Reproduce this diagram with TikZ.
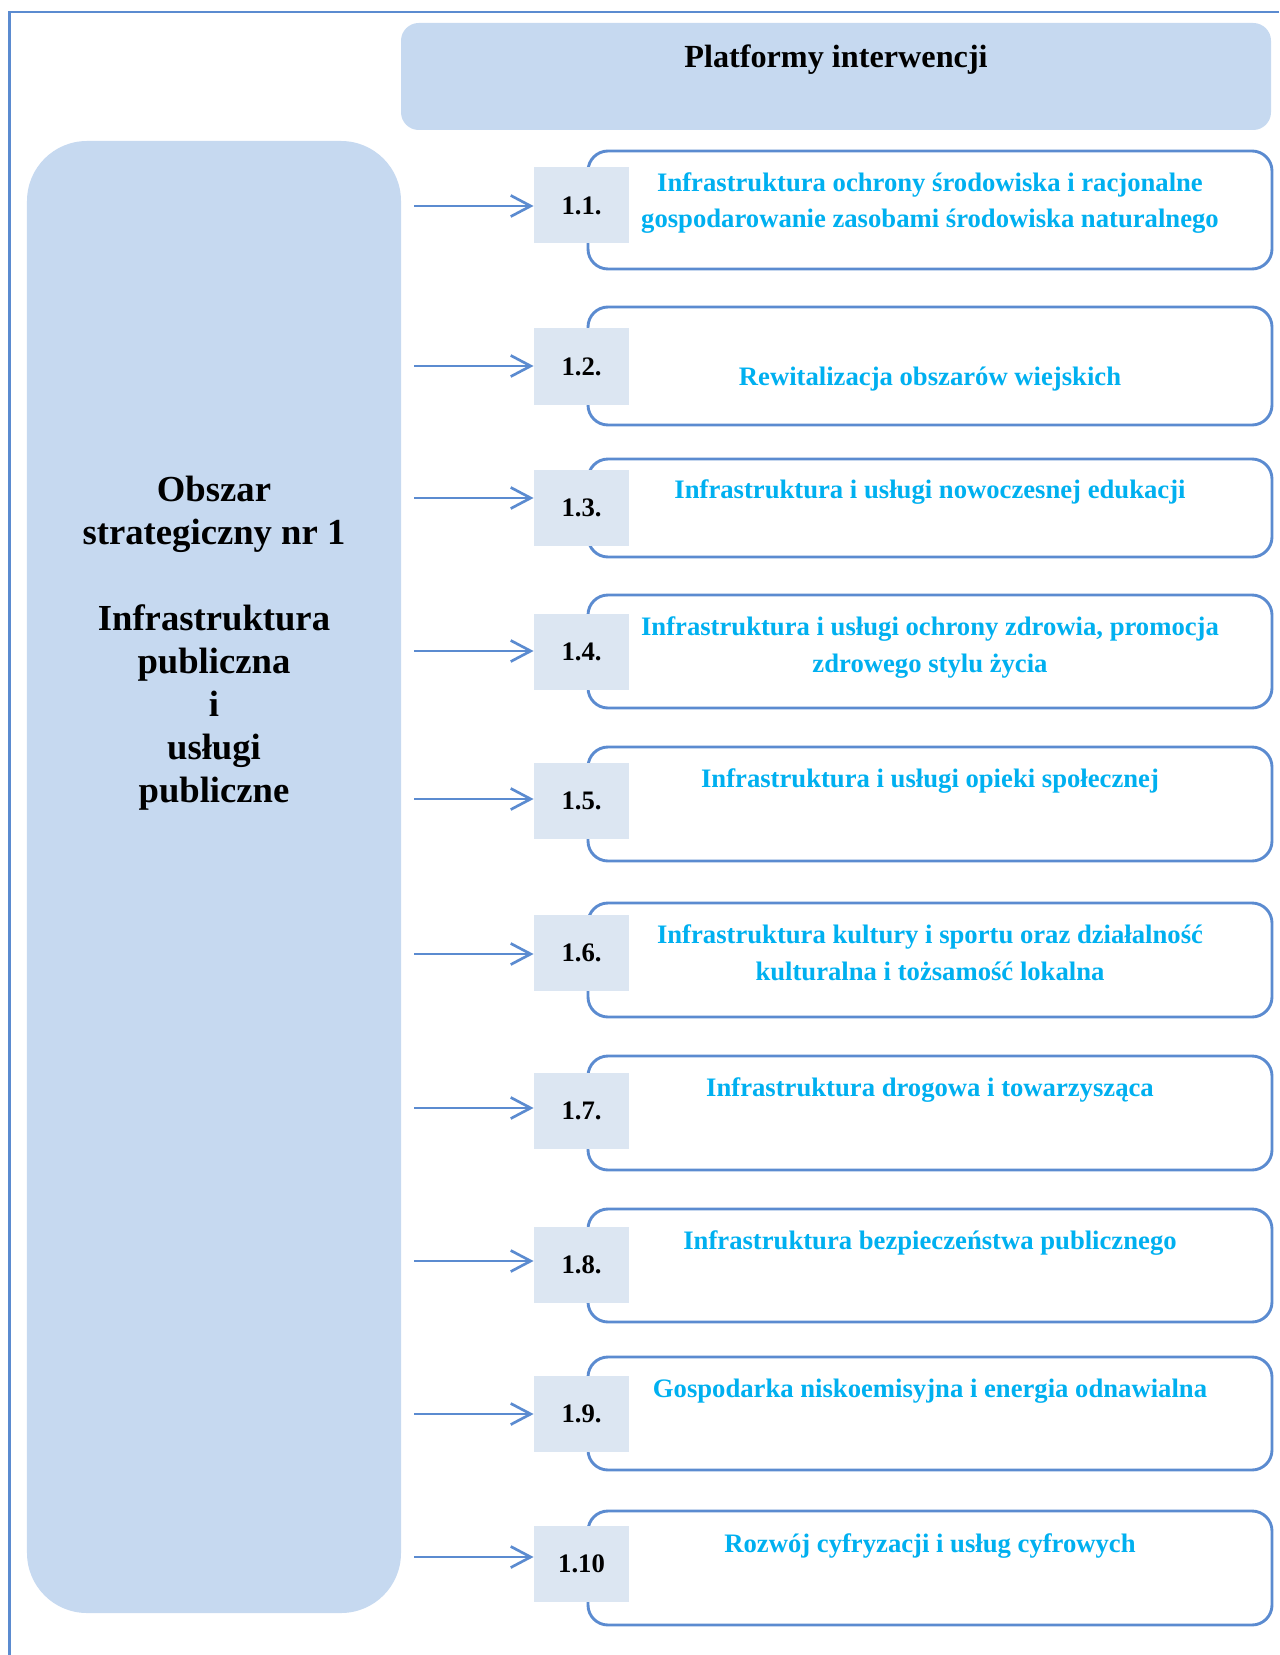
\documentclass[tikz,border=0pt]{standalone}
\usepackage{fontspec}
\setmainfont{Liberation Serif}
\usepackage{tikz}
\usetikzlibrary{arrows.meta}
\definecolor{ramka}{HTML}{5B8BD0}
\definecolor{obszar}{HTML}{C6D9F0}
\definecolor{numer}{HTML}{DCE6F2}
\definecolor{napis}{HTML}{00B0F0}
\tikzset{obszarbox/.style={fill=obszar,inner sep=0pt},
         numbox/.style={fill=numer,inner sep=0pt,minimum width=42.75pt,minimum height=34.2pt,
                        font=\bfseries\fontsize{12}{14}\selectfont},
         platbox/.style={draw=ramka,line width=1.3pt,rounded corners=9pt,fill=white,
                         minimum width=307.8pt,inner sep=0pt},
         platnapis/.style={text=napis,align=center,anchor=base,inner sep=0pt,
                           font=\bfseries\fontsize{12}{16.6}\selectfont},
         strzalka/.style={draw=ramka,line width=1.2pt,-{Straight Barb[length=9pt,width=9.5pt]}}}

\begin{document}
\begin{tikzpicture}[x=0.45pt,y=-0.45pt]
\useasboundingbox (0,0) rectangle (1279,1655);
% ramka strony
\draw[ramka,line width=1pt] (1279,12) -- (9.5,12) -- (9.5,1655);

\node (plat) [obszarbox,rounded corners=8pt,minimum width=391.5pt,minimum height=48.15pt] at (836,76.5) {};
\node (plattyt) [anchor=base,inner sep=0pt,font=\bfseries\fontsize{14.5}{17}\selectfont] at (836,68) {Platformy interwencji};

\node (obszar) [obszarbox,rounded corners=27pt,minimum width=168.3pt,minimum height=662.4pt] at (214,877) {};
% base = ostatni wiersz
\node (obszartyt) [anchor=base,align=center,inner sep=0pt,font=\bfseries\fontsize{16.5}{19.3}\selectfont] at (214,802)
  {Obszar\\strategiczny nr 1\\[19.3pt]Infrastruktura\\publiczna\\i\\usługi\\publiczne};

\foreach \nr/\gora/\dol/\ngora/\ndol/\sy/\odst/\tekst [count=\k] in {
  1.1./151/269/168/243/206/77/{Infrastruktura ochrony środowiska i racjonalne\\gospodarowanie zasobami środowiska naturalnego},
  1.2./307/425/329/404/366/78/{Rewitalizacja obszarów wiejskich},
  1.3./459/557/470/545/498/39/{Infrastruktura i usługi nowoczesnej edukacji},
  1.4./595/708/614/689/651/77/{Infrastruktura i usługi ochrony zdrowia, promocja\\zdrowego stylu życia},
  1.5./747/861/763/839/799/40/{Infrastruktura i usługi opieki społecznej},
  1.6./903/1017/915/991/954/77/{Infrastruktura kultury i sportu oraz działalność\\kulturalna i tożsamość lokalna},
  1.7./1056/1170/1073/1149/1108/40/{Infrastruktura drogowa i towarzysząca},
  1.8./1209/1322/1227/1303/1261/40/{Infrastruktura bezpieczeństwa publicznego},
  1.9./1357/1470/1376/1451/1414/40/{Gospodarka niskoemisyjna i energia odnawialna},
  1.10/1511/1625/1526/1601/1557/41/{Rozwój cyfryzacji i usług cyfrowych}}
{
\node (p\k) [platbox,minimum height={(\dol-\gora)*0.45pt}] at (930,{(\gora+\dol)/2}) {};
\node (n\k) [numbox] at (581.5,{(\ngora+\ndol)/2}) {\nr};
\node (t\k) [platnapis] at (930,{\gora+\odst}) {\tekst};
\coordinate (s\k) at (414,\sy);
\draw[strzalka] (s\k) -- (s\k -| n\k.west);
}
\end{tikzpicture}
\end{document}
